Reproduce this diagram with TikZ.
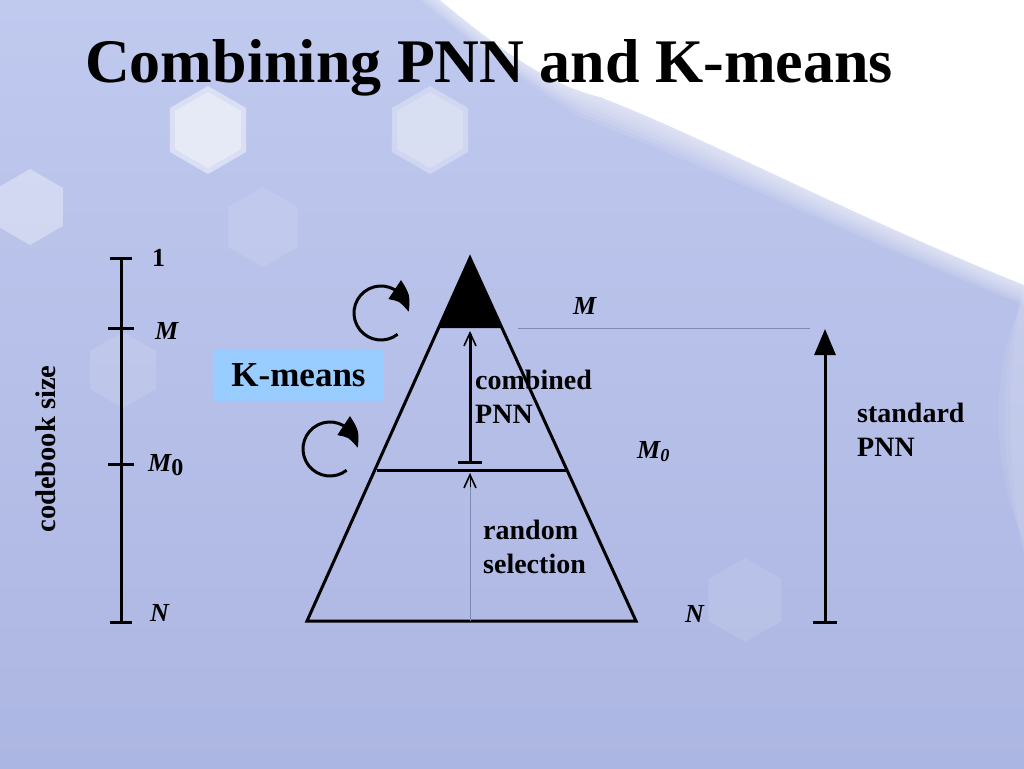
\documentclass[tikz,border=0pt]{standalone}
\usepackage{fontspec}
\setmainfont{Liberation Serif}
\usetikzlibrary{arrows.meta,calc,bending}
\definecolor{bgtop}{RGB}{192,201,238}
\definecolor{bgbot}{RGB}{172,182,226}
\definecolor{kbox}{RGB}{153,204,255}
\definecolor{thingray}{RGB}{128,138,175}
\tikzset{
  axis/.style={line width=3pt},
  tri/.style={line width=3pt, line join=miter},
  tick/.style={line width=3pt},
  lbl/.style={anchor=base west, inner sep=0pt, font=\fontsize{28}{34}\selectfont\bfseries, align=left},
  var/.style={anchor=base west, inner sep=0pt, font=\fontsize{26}{30}\selectfont\bfseries\itshape},
  loop/.style={line width=3pt, -{Triangle[length=27pt,width=22pt,bend]}},
  barb/.style={-{Straight Barb[length=13pt,width=12pt,line width=1.6pt]}},
}
\newcommand{\hexag}[4]{\fill[white, opacity=#4] (#1,#2) +(30:#3) -- +(90:#3) -- +(150:#3) -- +(210:#3) -- +(270:#3) -- +(330:#3) -- cycle;}
\begin{document}
\begin{tikzpicture}[x=1pt,y=-1pt]
\useasboundingbox (0,0) rectangle (1024,768);
% background
\shade[top color=bgtop, bottom color=bgbot] (0,0) rectangle (1024,768);
\hexag{208}{130}{44}{0.45}
\hexag{208}{130}{38}{0.35}
\hexag{430}{130}{44}{0.3}
\hexag{430}{130}{38}{0.2}
\hexag{30}{207}{38}{0.35}
\hexag{263}{227}{40}{0.1}
\hexag{123}{370}{38}{0.12}
\hexag{745}{600}{42}{0.1}
\foreach \o in {20,17,...,2}{
  \fill[white, opacity=0.1] (440-\o,0) .. controls (500-\o,50) and (550-\o,85) .. (600-\o,97+\o)
     .. controls (700-\o,135+\o) and (850,215+\o) .. (1024,285+\o) -- (1024,0) -- cycle;
}
\fill[white] (440,0) .. controls (500,50) and (550,85) .. (600,97)
     .. controls (700,135) and (850,215) .. (1024,285) -- (1024,0) -- cycle;
\foreach \o in {0,8,16}{
  \fill[white, opacity=0.07] (1024,300-\o) .. controls (990+\o,360) and (990+\o,470) .. (1024,540+\o) -- cycle;
}

% title
\node[anchor=base west, inner sep=0pt, font=\fontsize{62}{70}\selectfont\bfseries] (title) at (85,82) {Combining PNN and K-means};

% left axis
\coordinate (aT) at (121,258);
\coordinate (aB) at (121,622);
\draw[axis] (aT) -- (aB);
\coordinate (t1a) at (110,258); \coordinate (t1b) at (132,258);
\coordinate (t2a) at (108,328); \coordinate (t2b) at (134,328);
\coordinate (t3a) at (108,464); \coordinate (t3b) at (134,464);
\coordinate (t4a) at (110,622); \coordinate (t4b) at (132,622);
\draw[tick] (t1a) -- (t1b);
\draw[tick] (t2a) -- (t2b);
\draw[tick] (t3a) -- (t3b);
\draw[tick] (t4a) -- (t4b);
\node[anchor=base west, inner sep=0pt, font=\fontsize{26}{30}\selectfont\bfseries] (one) at (152,266) {1};
\node[var] (lM) at (155,339) {M};
\node[var] (lM0) at (148,471) {M\raisebox{-4pt}{\textup{\fontsize{24}{26}\selectfont 0}}};
\node[var] (lN) at (150,621) {N};
\node[rotate=90, inner sep=0pt, font=\fontsize{28.5}{30}\selectfont\bfseries] (cb) at (46,449) {codebook size};

% K-means box
\node[fill=kbox, inner sep=0pt, minimum width=171pt, minimum height=51pt, font=\fontsize{35}{40}\selectfont\bfseries] (km) at (298.5,375) {K-means};

% triangle
\coordinate (apex) at (470,258);
\coordinate (bl) at (307,621);
\coordinate (br) at (636,621);
\coordinate (ml) at (376.5,470);
\coordinate (mr) at (566,470);
\coordinate (tl) at (438.6,328);
\coordinate (tr) at (501.5,328);
\fill[black] (apex) -- (tl) -- (tr) -- cycle;
\draw[tri] (apex) -- (bl) -- (br) -- cycle;
\draw[line width=3pt] (ml) -- (mr);

% combined PNN arrow
\coordinate (cb0) at (470,462);
\coordinate (cb1) at (470,331);
\coordinate (cbl) at (458,462);
\coordinate (cbr) at (482,462);
\draw[line width=3pt, barb] (cb0) -- (cb1);
\draw[line width=3pt] (cbl) -- (cbr);
% random selection thin arrow
\coordinate (rs0) at (470,621);
\coordinate (rs1) at (470,473);
\coordinate (rs2) at (470,487);
\draw[thingray, line width=0.8pt] (rs0) -- (rs1);
\draw[barb] (rs2) -- (rs1);

% loops
\draw[loop] (381,313) ++(52:27) arc[start angle=52, end angle=358, radius=27];
\draw[loop] (330,449) ++(52:27) arc[start angle=52, end angle=358, radius=27];

% labels inside
\node[lbl] (comb) at (475,423) {combined\\PNN};
\node[lbl] (rand) at (483,573) {random\\selection};
\node[lbl] (std) at (857,456) {standard\\PNN};
\node[var] (rM) at (573,314) {M};
\node[var] (rM0) at (637,458) {M\textsubscript{0}};
\node[var] (rN) at (685,622) {N};

% thin M line
\coordinate (hl0) at (518,328);
\coordinate (hl1) at (810,328);
\draw[thingray, line width=0.8pt] (hl0) -- (hl1);

% standard PNN arrow
\coordinate (s0) at (825,622);
\coordinate (s1) at (825,329);
\coordinate (sl) at (813,622);
\coordinate (sr) at (837,622);
\draw[line width=3pt, -{Triangle[length=26pt,width=21pt]}] (s0) -- (s1);
\draw[line width=3pt] (sl) -- (sr);
\end{tikzpicture}
\end{document}
